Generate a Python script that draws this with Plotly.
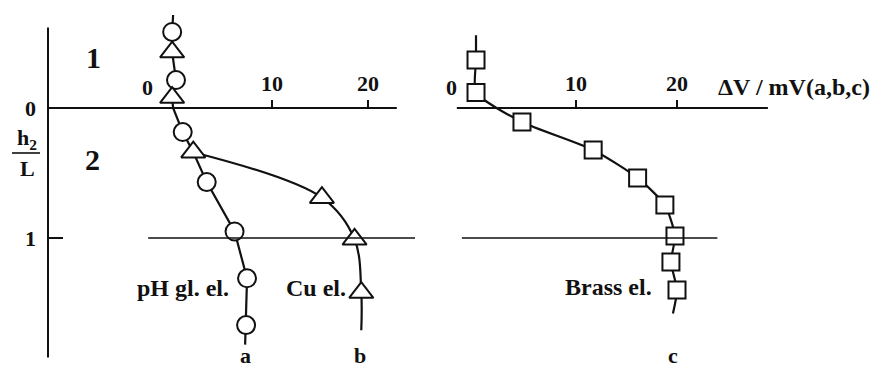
import plotly.graph_objects as go

# ---- data ----
# curve a: pH glass electrode (circles), left panel
a_dv = [-0.4, 0.0, 0.7, 3.2, 6.1, 7.4, 7.3]
a_h = [-0.585, -0.215, 0.185, 0.57, 0.95, 1.31, 1.67]
a_line_dv = [-0.3, -0.4, -0.4, 0.0, -0.4, -0.3, 0.7, 1.8, 3.2, 6.1, 7.4, 7.3, 7.2]
a_line_h = [-0.715, -0.585, -0.43, -0.215, -0.08, 0.0, 0.185, 0.34, 0.57, 0.95, 1.31, 1.67, 1.82]

# curve b: Cu electrode (triangles), left panel
b_dv = [-0.4, -0.4, 1.8, 15.2, 18.6, 19.3]
b_h = [-0.43, -0.08, 0.34, 0.69, 1.01, 1.42]
b_line_dv = [1.8, 15.2, 18.6, 19.3, 19.3]
b_line_h = [0.34, 0.69, 1.01, 1.42, 1.71]

# curve c: Brass electrode (squares), right panel
c_dv = [0.1, 0.1, 4.65, 11.7, 16.1, 18.8, 19.8, 19.4, 20.0]
c_h = [-0.37, -0.12, 0.108, 0.323, 0.538, 0.746, 0.985, 1.185, 1.40]
c_line_dv = [0.1] + c_dv + [19.6]
c_line_h = [-0.56] + c_h + [1.58]

x_ticks = [10, 20]
x_tick_text = ["10", "20"]
y_ticks = [0, 1]
y_tick_text = ["0", "1"]

W, H = 875, 369
FONT = "Liberation Serif"
BLACK = "#111111"


def px_to_paper(px, py):
    return px / W, 1 - py / H


fig = go.Figure()

# lines
fig.add_trace(go.Scatter(x=a_line_dv, y=a_line_h, mode="lines", xaxis="x", yaxis="y",
                         line=dict(color=BLACK, width=2.2), hoverinfo="skip", showlegend=False))
fig.add_trace(go.Scatter(x=b_line_dv, y=b_line_h, mode="lines", xaxis="x", yaxis="y",
                         line=dict(color=BLACK, width=2.2, shape="spline", smoothing=1.0),
                         hoverinfo="skip", showlegend=False))
fig.add_trace(go.Scatter(x=c_line_dv, y=c_line_h, mode="lines", xaxis="x2", yaxis="y",
                         line=dict(color=BLACK, width=2.2, shape="spline", smoothing=0.6),
                         hoverinfo="skip", showlegend=False))

# markers
fig.add_trace(go.Scatter(x=a_dv, y=a_h, mode="markers", xaxis="x", yaxis="y", name="a",
                         marker=dict(symbol="circle", size=18, color="white",
                                     line=dict(color=BLACK, width=2)),
                         cliponaxis=False, showlegend=False))
fig.add_trace(go.Scatter(x=b_dv, y=b_h, mode="markers", xaxis="x", yaxis="y", name="b",
                         marker=dict(symbol="triangle-up", size=21, color="white",
                                     line=dict(color=BLACK, width=2)),
                         cliponaxis=False, showlegend=False))
fig.add_trace(go.Scatter(x=c_dv, y=c_h, mode="markers", xaxis="x2", yaxis="y", name="c",
                         marker=dict(symbol="square", size=17, color="white",
                                     line=dict(color=BLACK, width=2)),
                         cliponaxis=False, showlegend=False))

# axis scales: left panel 0 at 176 px, 9.6 px/unit; right panel 0 at 475 px, 10.1 px/unit
# y: 0 at 108 px, 130 px per unit
y_range = [(H - 108) / 130, -108 / 130]
x1_range = [(0 - 176) / 9.6, (437.5 - 176) / 9.6]
x2_range = [(437.5 - 475) / 10.1, (875 - 475) / 10.1]
y0_paper = 1 - 108 / H

tickfont = dict(family=FONT, size=22, color=BLACK, weight="bold")

fig.update_layout(
    width=W, height=H,
    margin=dict(l=0, r=0, t=0, b=0),
    paper_bgcolor="white", plot_bgcolor="rgba(0,0,0,0)",
    font=dict(family=FONT, color=BLACK),
    xaxis=dict(domain=[0, 0.5], range=x1_range, anchor="free", position=y0_paper,
               side="top", showgrid=False, zeroline=False, showline=False,
               tickvals=x_ticks, ticktext=x_tick_text, ticks="outside", ticklen=8,
               tickwidth=2, tickcolor=BLACK, tickfont=tickfont),
    xaxis2=dict(domain=[0.5, 1], range=x2_range, anchor="free", position=y0_paper,
                side="top", showgrid=False, zeroline=False, showline=False,
                tickvals=x_ticks, ticktext=x_tick_text, ticks="outside", ticklen=8,
                tickwidth=2, tickcolor=BLACK, tickfont=tickfont),
    yaxis=dict(domain=[0, 1], range=y_range, anchor="free", position=48 / W,
               showgrid=False, zeroline=False, showline=False,
               tickvals=y_ticks, ticktext=y_tick_text, ticks="inside", ticklen=14,
               tickwidth=2, tickcolor=BLACK, tickfont=tickfont, ticklabelstandoff=12),
)

shapes = []
# left panel axes
shapes.append(dict(type="line", xref="x", yref="y", x0=(48 - 176) / 9.6, x1=(48 - 176) / 9.6,
                   y0=-0.62, y1=1.92, line=dict(color=BLACK, width=2)))
shapes.append(dict(type="line", xref="x", yref="y", x0=(48 - 176) / 9.6, x1=23.0,
                   y0=0, y1=0, line=dict(color=BLACK, width=2)))
shapes.append(dict(type="line", xref="x", yref="y", x0=-2.9, x1=24.9,
                   y0=1, y1=1, line=dict(color=BLACK, width=1.3)))
# right panel axes
shapes.append(dict(type="line", xref="x2", yref="y", x0=-1.8, x1=29.0,
                   y0=0, y1=0, line=dict(color=BLACK, width=2)))
shapes.append(dict(type="line", xref="x2", yref="y", x0=-1.3, x1=24.0,
                   y0=1, y1=1, line=dict(color=BLACK, width=1.3)))
# fraction bar of h2/L
fx0, fy = px_to_paper(12, 153)
fx1, _ = px_to_paper(40, 153)
shapes.append(dict(type="line", xref="paper", yref="paper", x0=fx0, x1=fx1, y0=fy, y1=fy,
                   line=dict(color=BLACK, width=1.6)))
fig.update_layout(shapes=shapes)

ann = []


def add_text(text, x, y, xref, yref, size, xanchor="center", yanchor="middle"):
    ann.append(dict(text=text, x=x, y=y, xref=xref, yref=yref, showarrow=False,
                    xanchor=xanchor, yanchor=yanchor, borderpad=0,
                    font=dict(family=FONT, size=size, color=BLACK, weight="bold")))


# zero labels on horizontal axes (offset left of origin)
add_text("0", -3.0, -0.16, "x", "y", 22)
add_text("0", -2.3, -0.16, "x2", "y", 22)
add_text("ΔV / mV(a,b,c)", 24.0, -0.16, "x2", "y", 24, xanchor="left")
# region labels
px, py = px_to_paper(93, 58)
add_text("1", px, py, "paper", "paper", 30)
px, py = px_to_paper(92, 159)
add_text("2", px, py, "paper", "paper", 30)
px, py = px_to_paper(27, 139)
add_text("h<sub>2</sub>", px, py, "paper", "paper", 22)
px, py = px_to_paper(27, 169)
add_text("L", px, py, "paper", "paper", 22)
# curve labels
add_text("pH gl. el.", 5.6, 1.385, "x", "y", 24, xanchor="right")
add_text("Cu el.", 17.8, 1.385, "x", "y", 24, xanchor="right")
add_text("Brass el.", 17.6, 1.38, "x2", "y", 24, xanchor="right")
add_text("a", 7.2, 0, "x", "paper", 22, yanchor="bottom")
add_text("b", 19.2, 0, "x", "paper", 22, yanchor="bottom")
add_text("c", 19.6, 0, "x2", "paper", 22, yanchor="bottom")
fig.update_layout(annotations=ann)

fig.write_html("out.html")
